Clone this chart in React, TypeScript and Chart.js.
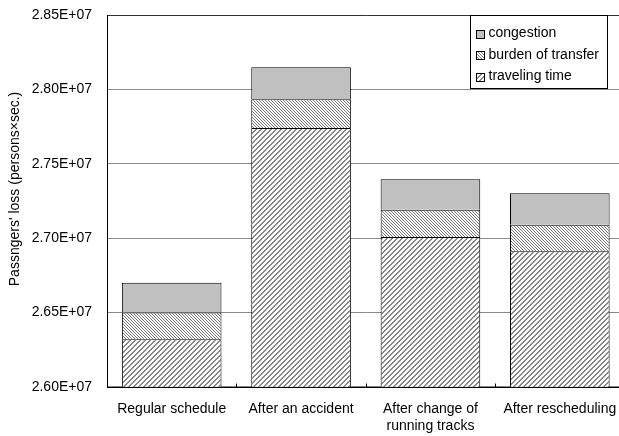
import React, { useEffect, useRef } from "react";
import { Chart, registerables } from "chart.js";

Chart.register(...registerables);

// Passengers' loss broken down into its three components for each scenario
const categories: (string | string[])[] = [
  "Regular schedule",
  "After an accident",
  ["After change of", "running tracks"],
  "After rescheduling",
];
const travelingTime = [26320000, 27741000, 27008000, 26911000];
const burdenOfTransfer = [180000, 194000, 183000, 179000];
const congestion = [200000, 215000, 205000, 212000];

const yTickMin = 26000000;
const yTickMax = 28500000;
const yTickStep = 500000;

const yTitle = "Passngers' loss (persons×sec.)";
const FONT = "Arial, 'Liberation Sans', sans-serif";

function makeHatch(size: number, dir: "fwd" | "back", thick: number, color: string) {
  const c = document.createElement("canvas");
  c.width = size;
  c.height = size;
  const g = c.getContext("2d")!;
  g.fillStyle = "#ffffff";
  g.fillRect(0, 0, size, size);
  g.fillStyle = color;
  for (let i = 0; i < size; i++) {
    for (let t = 0; t < thick; t++) {
      const x = (i + t) % size;
      const y = dir === "fwd" ? size - 1 - i : i;
      g.fillRect(x, y, 1, 1);
    }
  }
  return g.createPattern(c, "repeat")!;
}

export default function App() {
  const ref = useRef<HTMLCanvasElement>(null);

  useEffect(() => {
    const canvas = ref.current!;
    const travelPattern = makeHatch(5, "fwd", 2, "#888888");
    const burdenPattern = makeHatch(3, "back", 1, "#777777");
    const congestionFill = "#c0c0c0";

    const legendItems = [
      { label: "congestion", fill: congestionFill as any },
      { label: "burden of transfer", fill: burdenPattern as any },
      { label: "traveling time", fill: travelPattern as any },
    ];

    const overlay = {
      id: "overlay",
      afterDatasetsDraw(chart: any) {
        const { ctx, chartArea } = chart;
        const xs = chart.scales.x;
        ctx.save();
        ctx.strokeStyle = "#000";
        ctx.lineWidth = 1;
        // baseline
        const by = Math.round(chartArea.bottom) + 0.5;
        ctx.beginPath();
        ctx.moveTo(chartArea.left, by);
        ctx.lineTo(chartArea.right, by);
        ctx.stroke();
        // inward tick marks at category boundaries
        const n = categories.length;
        for (let i = 0; i < n - 1; i++) {
          const x = Math.round((xs.getPixelForValue(i) + xs.getPixelForValue(i + 1)) / 2) + 0.5;
          ctx.beginPath();
          ctx.moveTo(x, by);
          ctx.lineTo(x, by - 4);
          ctx.stroke();
        }
        ctx.restore();
      },
      afterDraw(chart: any) {
        const { ctx, chartArea } = chart;
        ctx.save();
        // y-axis title
        ctx.translate(15, 189);
        ctx.rotate(-Math.PI / 2);
        ctx.fillStyle = "#000";
        ctx.font = `14px ${FONT}`;
        ctx.textAlign = "center";
        ctx.textBaseline = "middle";
        ctx.fillText(yTitle, 0, 0);
        ctx.restore();

        // legend box inside the plot area
        ctx.save();
        const bx = 470.5;
        const bw = 137;
        const top = Math.round(chartArea.top) + 0.5;
        const bh = 73;
        ctx.fillStyle = "#fff";
        ctx.fillRect(bx, top, bw, bh);
        ctx.strokeStyle = "#000";
        ctx.lineWidth = 1;
        ctx.strokeRect(bx, top, bw, bh);
        ctx.font = `14px ${FONT}`;
        ctx.textBaseline = "middle";
        ctx.textAlign = "left";
        legendItems.forEach((it, i) => {
          const cy = top + 18 + i * 21.5;
          const sy = Math.round(cy - 4);
          ctx.fillStyle = it.fill;
          ctx.fillRect(bx + 6, sy, 8, 8);
          ctx.strokeStyle = "#000";
          ctx.strokeRect(bx + 6, sy + 0.5, 8, 8);
          ctx.fillStyle = "#000";
          ctx.fillText(it.label, bx + 18, cy);
        });
        ctx.restore();
      },
    };

    const clip = { left: false, top: false, right: false, bottom: 0 } as any;

    const chart = new Chart(canvas, {
      type: "bar",
      data: {
        labels: categories,
        datasets: [
          {
            label: "traveling time",
            data: travelingTime,
            backgroundColor: travelPattern as any,
            borderColor: "#000",
            borderWidth: 1,
            borderSkipped: "start",
            clip,
          },
          {
            label: "burden of transfer",
            data: burdenOfTransfer,
            backgroundColor: burdenPattern as any,
            borderColor: "#000",
            borderWidth: 1,
            borderSkipped: "start",
            clip,
          },
          {
            label: "congestion",
            data: congestion,
            backgroundColor: congestionFill,
            borderColor: "#000",
            borderWidth: 1,
            borderSkipped: "start",
            clip,
          },
        ],
      },
      options: {
        animation: false,
        responsive: false,
        devicePixelRatio: 1,
        layout: { padding: { left: 0, top: 15.3, right: 7.5, bottom: 0 } },
        datasets: { bar: { categoryPercentage: 1, barPercentage: 0.77 } },
        plugins: {
          legend: { display: false },
          tooltip: { enabled: false },
          title: { display: false },
        },
        scales: {
          x: {
            stacked: true,
            grid: { display: false },
            border: { display: false },
            ticks: {
              color: "#000",
              font: { family: FONT, size: 14, lineHeight: 1.2 },
              padding: 6,
              maxRotation: 0,
              autoSkip: false,
            },
            afterFit: (s: any) => {
              s.height = 49.3;
              s.paddingLeft = 0;
              s.paddingRight = 0;
            },
          },
          y: {
            stacked: true,
            min: yTickMin,
            max: yTickMax,
            grid: {
              color: (c: any) => (c.tick && c.tick.value === yTickMax ? "#333" : "#888"),
              lineWidth: 1,
              drawTicks: false,
            },
            border: { display: true, color: "#000", width: 1 },
            ticks: {
              stepSize: yTickStep,
              color: "#000",
              font: { family: FONT, size: 14 },
              padding: 15,
              callback: (v: any) => (Number(v) / 1e7).toFixed(2) + "E+07",
            },
            afterFit: (s: any) => {
              s.width = 107;
              s.paddingTop = 0;
              s.paddingBottom = 0;
            },
          },
        },
      },
      plugins: [overlay],
    });
    return () => chart.destroy();
  }, []);

  return (
    <div
      style={{
        position: "fixed",
        left: 0,
        top: 0,
        width: 619,
        height: 436,
        overflow: "hidden",
        background: "#fff",
      }}
    >
      <canvas ref={ref} width={632} height={436} style={{ display: "block" }} />
    </div>
  );
}
